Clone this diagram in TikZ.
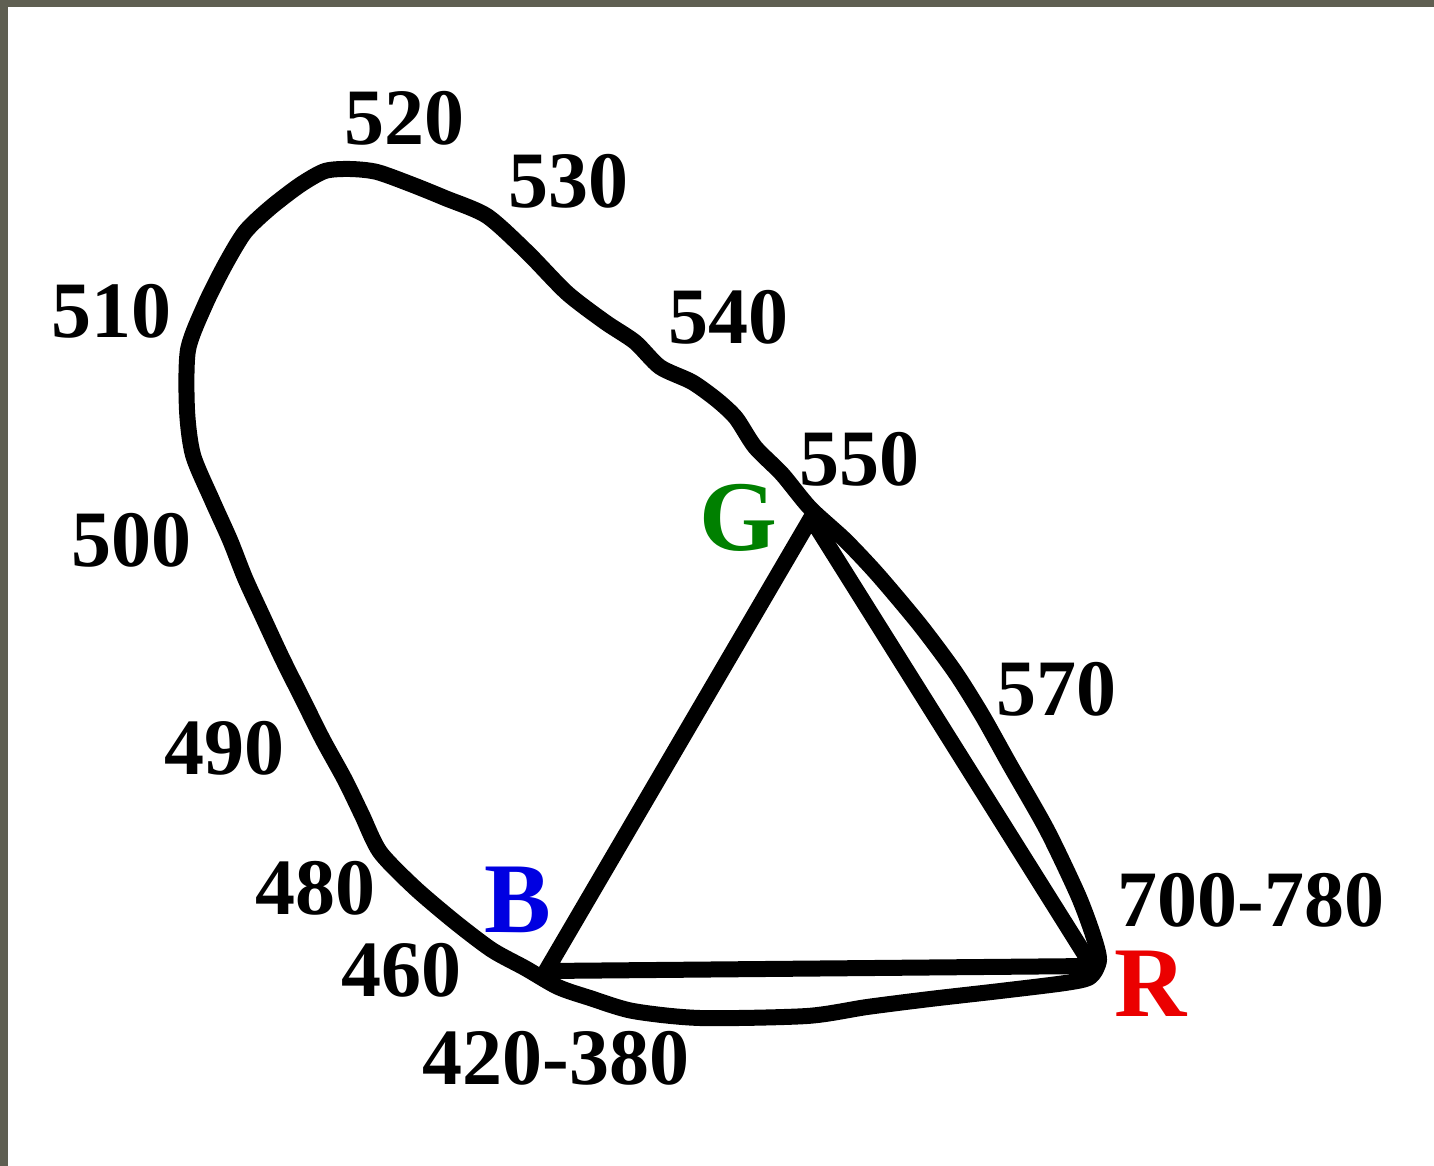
\documentclass[tikz,border=0pt]{standalone}
\usepackage{fontspec}
\setmainfont{Liberation Serif}
\definecolor{bordercol}{RGB}{95,95,82}
\definecolor{gcol}{RGB}{0,128,0}
\definecolor{bcol}{RGB}{0,0,225}
\definecolor{rcol}{RGB}{235,0,0}
\tikzset{
  thickline/.style={line width=16pt, line join=round, line cap=round},
  wl/.style={inner sep=0pt, font=\fontsize{80}{80}\selectfont\bfseries},
  prim/.style={inner sep=0pt, font=\fontsize{100}{100}\selectfont\bfseries}
}
\begin{document}
\begin{tikzpicture}[x=1pt,y=-1pt]
\useasboundingbox (0,0) rectangle (1434,1166);
\fill[white] (0,0) rectangle (1434,1166);
\fill[bordercol] (0,0) rectangle (1434,7);
\fill[bordercol] (0,0) rectangle (8,1166);

% primaries
\coordinate (B) at (546,971);
\coordinate (G) at (811,518);
\coordinate (R) at (1092,966);

% spectral locus and purple line
\draw[thickline] plot[smooth cycle, tension=0.45] coordinates {
 (525,968) (492,950) (455,922) (415,888) (380,852)
 (362,815) (345,780) (323,740) (303,700) (282,658)
 (262,615) (245,578) (230,540) (212,500) (193,455)
 (187,410) (188,350) (205,305) (225,265) (245,232)
 (270,208) (300,185) (325,171) (350,169) (377,172)
 (413,185) (445,198) (487,216) (527,252) (567,293)
 (605,322) (635,342) (660,367) (692,382) (717,400)
 (736,418) (755,447) (782,474) (810,508) (845,540)
 (878,575) (920,625) (955,672) (982,715) (1010,765)
 (1047,830) (1078,895) (1093,935) (1099,960) (1090,977)
 (1065,983) (1000,991) (930,999) (867,1007) (807,1016)
 (700,1018) (633,1011) (590,998) (558,987)
};

% triangle
\draw[thickline] (B) -- (G) -- (R) -- cycle;

% wavelength labels
\node[wl] (l520) at (404,118) {520};
\node[wl] (l530) at (568,181) {530};
\node[wl] (l510) at (111,311) {510};
\node[wl] (l540) at (728,317) {540};
\node[wl] (l550) at (859,459) {550};
\node[wl] (l500) at (131,540) {500};
\node[wl] (l490) at (224,748) {490};
\node[wl] (l480) at (315,888) {480};
\node[wl] (l460) at (401,970) {460};
\node[wl] (l420) at (556,1058) {420-380};
\node[wl] (l570) at (1056,689) {570};
\node[wl] (l700) at (1251,900) {700-780};

% primary labels
\node[prim, text=gcol] (Glab) at (738,518) {G};
\node[prim, text=bcol] (Blab) at (518,900) {B};
\node[prim, text=rcol] (Rlab) at (1151,984) {R};
\end{tikzpicture}
\end{document}
